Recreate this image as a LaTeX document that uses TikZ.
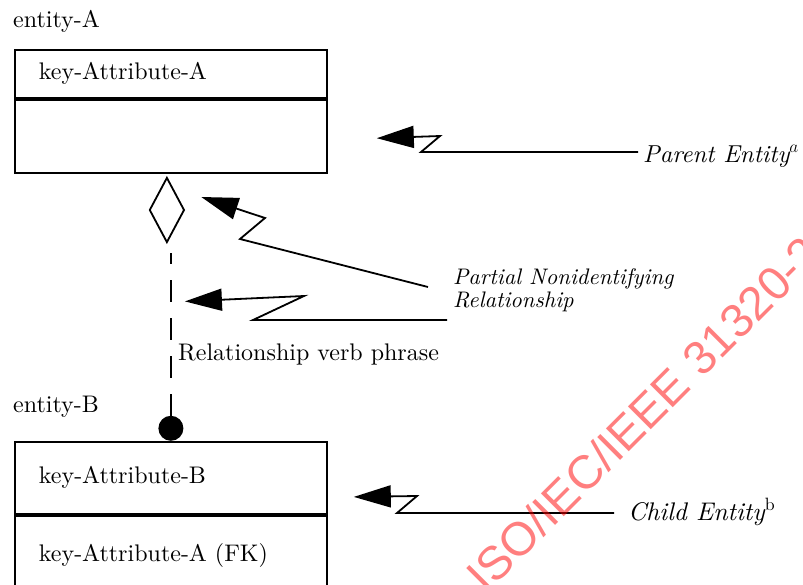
\documentclass[tikz,border=0pt]{standalone}
\usepackage{fontspec}
\setmainfont{lmroman10-regular.otf}[ItalicFont=lmroman10-italic.otf]
\newfontfamily\markfont{Liberation Sans}
\usetikzlibrary{arrows.meta,shapes.geometric}

\tikzset{
  attrbox/.style={draw, line width=1.8pt, align=left, text width=264pt,
    inner xsep=24pt, inner ysep=0pt, text height=18pt, text depth=6pt,
    anchor=north west},
  zap/.style={line width=1.8pt, -{Triangle[length=37pt,width=22pt]}},
  note/.style={font=\fontsize{25.5}{27}\selectfont\itshape, inner sep=3pt},
}

\begin{document}
\begin{tikzpicture}[x=1pt, y=-1pt, font=\fontsize{24}{28}\selectfont]
\useasboundingbox (0,0) rectangle (803,584);

% parent entity
\node[anchor=base west, inner sep=0] (nameA) at (13,27) {entity-A};
\node[attrbox, minimum height=48pt] (keyA) at (14,49) {key-Attribute-A};
\node[attrbox, minimum height=73pt] (restA) at (keyA.south west) {};

% child entity
\node[anchor=base west, inner sep=0] (nameB) at (13,412) {entity-B};
\node[attrbox, minimum height=72pt] (keyB) at (14,441) {key-Attribute-B};
\node[attrbox, minimum height=80pt] (restB) at (keyB.south west) {key-Attribute-A (FK)};

% relationship: diamond at the parent, dot at the child
\node[diamond, draw, line width=1.8pt, inner sep=0, minimum width=35pt,
  minimum height=65pt, anchor=north] (dia) at ([xshift=-4pt,yshift=-3pt]restA.south) {};
\node[circle, fill, inner sep=0, minimum size=25pt, anchor=south] (dotB) at (keyB.north) {};
\draw[line width=1.8pt, dash pattern=on 22pt off 16pt, shorten >=10pt]
  (dotB.north) -- (dotB.north |- dia.south);
\node[anchor=base west, inner sep=0] (verb) at (178,360) {Relationship verb phrase};

% callouts
\node[note, anchor=base west, font=\fontsize{24.5}{27}\selectfont\itshape] (parent) at (640,162) {Parent Entity$^{a}$};
\node[note, anchor=north west, inner sep=0, align=left,
  font=\fontsize{22.5}{23}\selectfont\itshape] (partial) at (453,268)
  {Partial Nonidentifying\\Relationship};
\node[note, anchor=base west] (child) at (625,520) {Child Entity\textsuperscript{\upshape b}};

\coordinate (parentTip) at ([xshift=49pt,yshift=-2pt]restA.east);
\coordinate (diaTip) at ([xshift=16pt,yshift=13pt]dia.east);
\coordinate (lineTip) at ([xshift=18pt,yshift=-58pt]dia.south);
\coordinate (childTip) at ([xshift=26pt,yshift=-19pt]keyB.east);

\draw[zap] ([xshift=-2pt,yshift=10pt]parent.base west) -- ++(-217,0) -- ++(19,-16) -- (parentTip);
\draw[zap] ([xshift=-25pt,yshift=-19pt]partial.north west) -- ++(-188,-48) -- ++(25,-21) -- (diaTip);
\draw[zap] ([xshift=-6pt,yshift=-52pt]partial.north west) -- ++(-194,0) -- ++(51,-24) -- (lineTip);
\draw[zap] ([xshift=-11pt,yshift=7pt]child.base west) -- ++(-217,0) -- ++(20,-17) -- (childTip);

% stamp across the sheet
\node[font=\markfont\fontsize{47}{50}\selectfont, text=red, text opacity=0.5,
  rotate=45, anchor=base west, inner sep=0] (stamp) at (486,595) {ISO/IEC/IEEE 31320-2};
\end{tikzpicture}
\end{document}
